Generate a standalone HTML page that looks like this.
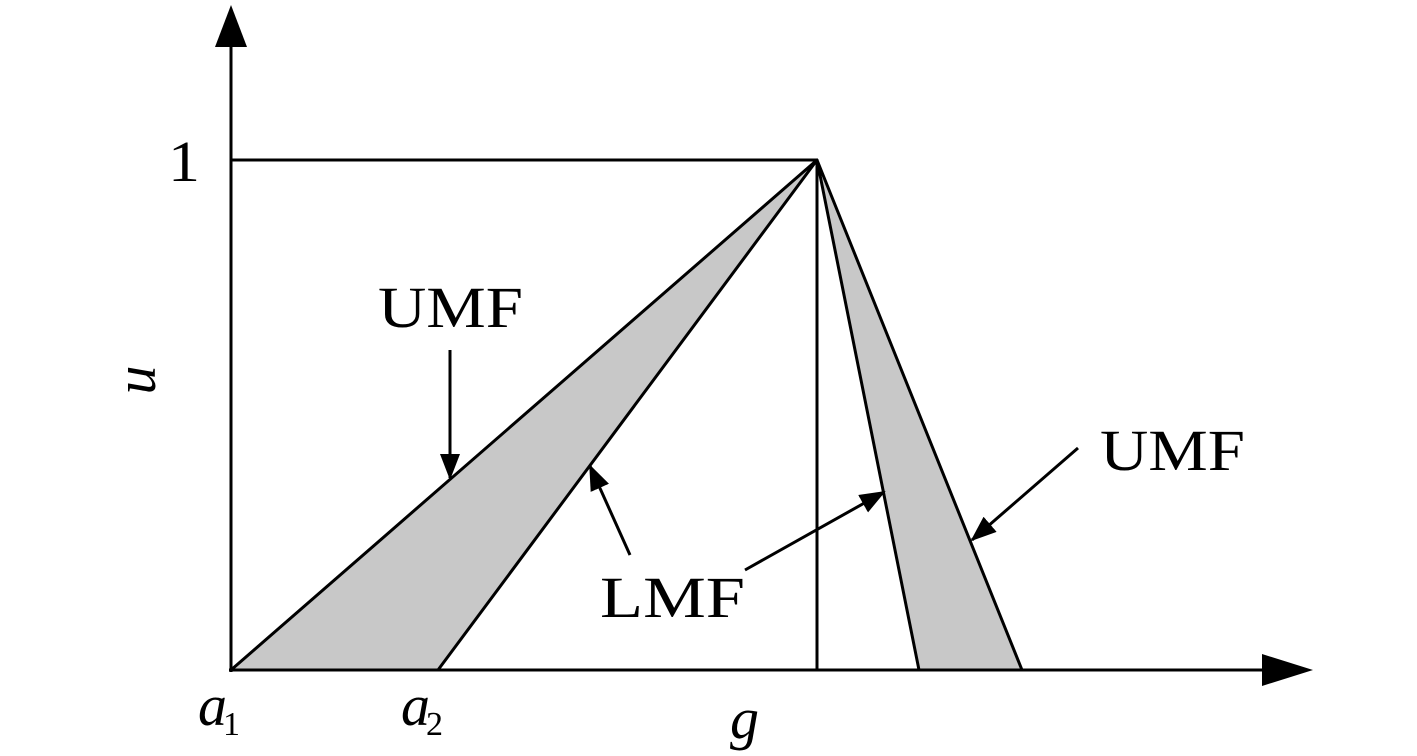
<!DOCTYPE html>
<html><head><meta charset="utf-8"><style>html,body{margin:0;padding:0;background:#fff;}svg{display:block}</style></head>
<body>
<svg width="1417" height="756" viewBox="0 0 1417 756" xmlns="http://www.w3.org/2000/svg">
<defs>
<marker id="ah2" markerWidth="26" markerHeight="26" refX="24" refY="13" orient="auto" markerUnits="userSpaceOnUse" viewBox="0 0 26 26"><path d="M0,3 L26,13 L0,23 z" fill="#000"/></marker></defs>
<polygon points="231,670 817,160 438,670" fill="#c8c8c8" stroke="#000" stroke-width="3" stroke-linejoin="round"/>
<polygon points="817,160 919,670 1022,670" fill="#c8c8c8" stroke="#000" stroke-width="3" stroke-linejoin="round"/>
<line x1="231" y1="160" x2="817" y2="160" stroke="#000" stroke-width="3"/>
<line x1="817" y1="160" x2="817" y2="670" stroke="#000" stroke-width="3"/>
<line x1="231" y1="672" x2="231" y2="40" stroke="#000" stroke-width="3"/>
<polygon points="231,5 215,47 247,47" fill="#000"/>
<line x1="229" y1="670" x2="1270" y2="670" stroke="#000" stroke-width="3"/>
<polygon points="1313,670 1262,654 1262,686" fill="#000"/>
<g stroke="#000" stroke-width="3">
<line x1="450" y1="350" x2="450" y2="478" marker-end="url(#ah2)"/>
<line x1="1078" y1="448" x2="972" y2="540" marker-end="url(#ah2)"/>
<line x1="630" y1="555" x2="590" y2="466" marker-end="url(#ah2)"/>
<line x1="745" y1="570" x2="884" y2="492" marker-end="url(#ah2)"/>
</g>
<g font-family="Liberation Serif, serif" font-size="58" fill="#000">
<text x="168" y="181" textLength="32" lengthAdjust="spacingAndGlyphs">1</text>
<text x="378" y="327" textLength="145" lengthAdjust="spacingAndGlyphs">UMF</text>
<text x="1100" y="470" textLength="145" lengthAdjust="spacingAndGlyphs">UMF</text>
<text x="600" y="617" textLength="145" lengthAdjust="spacingAndGlyphs">LMF</text>
<text transform="translate(155,380) rotate(-90)" text-anchor="middle" font-style="italic">u</text>
<text x="198" y="725" font-style="italic">a</text><text x="223" y="735" font-size="34">1</text>
<text x="401" y="725" font-style="italic">a</text><text x="426" y="735" font-size="34">2</text>
<text x="730" y="738" font-style="italic">g</text>
</g>
</svg>
</body></html>
